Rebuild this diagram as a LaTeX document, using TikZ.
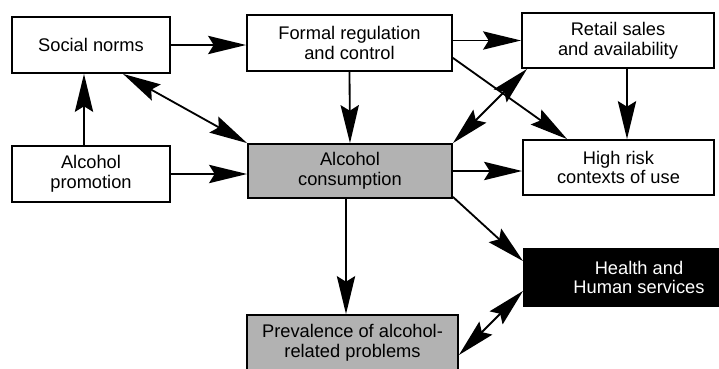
\documentclass[tikz,border=0pt]{standalone}
\usepackage{fontspec}
\setmainfont{Liberation Sans}
\usepackage{tikz}
\usetikzlibrary{positioning,arrows.meta,calc}

\tikzset{
  box/.style={draw=black, line width=1.3pt, fill=white, align=center,
    font=\fontsize{13}{14}\selectfont, inner sep=2pt},
  greybox/.style={box, fill=black!30},
  darkbox/.style={box, fill=black, text=white},
  arr/.style={line width=1.3pt, ->},
  darr/.style={line width=1.3pt, <->}
}

\begin{document}
\begin{tikzpicture}[x=0.025cm, y=-0.025cm, >={Stealth[length=27pt,width=13pt,inset=4pt]}]
\clip (0,0) rectangle (719,369);
\fill[white] (0,0) rectangle (719,369);

\node[box, minimum width=3.95cm, minimum height=1.4cm] (norms) at (91,45) {Social norms};
\node[box, minimum width=5.125cm, minimum height=1.4cm] (formal) at (349.5,43) {Formal regulation\\and control};
\node[box, minimum width=4.8cm, minimum height=1.375cm] (retail) at (618,40.5) {Retail sales\\and availability};
\node[box, minimum width=3.95cm, minimum height=1.4cm] (promo) at (91,174) {Alcohol\\promotion};
\node[greybox, minimum width=5.1cm, minimum height=1.35cm] (consump) at (350,171) {Alcohol\\consumption};
\node[box, minimum width=4.775cm, minimum height=1.375cm] (risk) at (618.5,167.5) {High risk\\contexts of use};
\node[darkbox, minimum width=5.75cm, minimum height=1.425cm] (health) at (639,277.5) {Health and\\Human services};
\node[greybox, minimum width=5.275cm, minimum height=1.4cm] (prev) at (352.5,343) {Prevalence of alcohol-\\related problems};

\draw[arr] (norms.east) -- (norms.east -| formal.west);
\draw[arr] (formal.east |- retail.west) -- (retail.west);
\draw[arr] (promo.north -| 84,0) -- (norms.south -| 84,0);
\draw[darr] ($(norms.south)+(32,0)$) -- (consump.north west);
\draw[arr] (promo.east) -- (promo.east -| consump.west);
\draw[arr] (formal.south) -- (consump.north);
\draw[arr] ($(formal.south east)+(0,-14)$) -- ($(risk.north west)+(45,0)$);
\draw[darr] ($(retail.south west)+(6,0)$) -- (consump.north east);
\draw[arr] (retail.south -| 627,0) -- (risk.north -| 627,0);
\draw[arr] (consump.east) -- (consump.east -| risk.west);
\draw[arr] ($(consump.south east)+(0,-2)$) -- ($(health.north west)+(0,13)$);
\draw[arr] (consump.south -| 346,0) -- (prev.north -| 346,0);
\draw[darr] ($(prev.east)+(0,12)$) -- ($(health.south west)+(0,-16)$);
\end{tikzpicture}
\end{document}
